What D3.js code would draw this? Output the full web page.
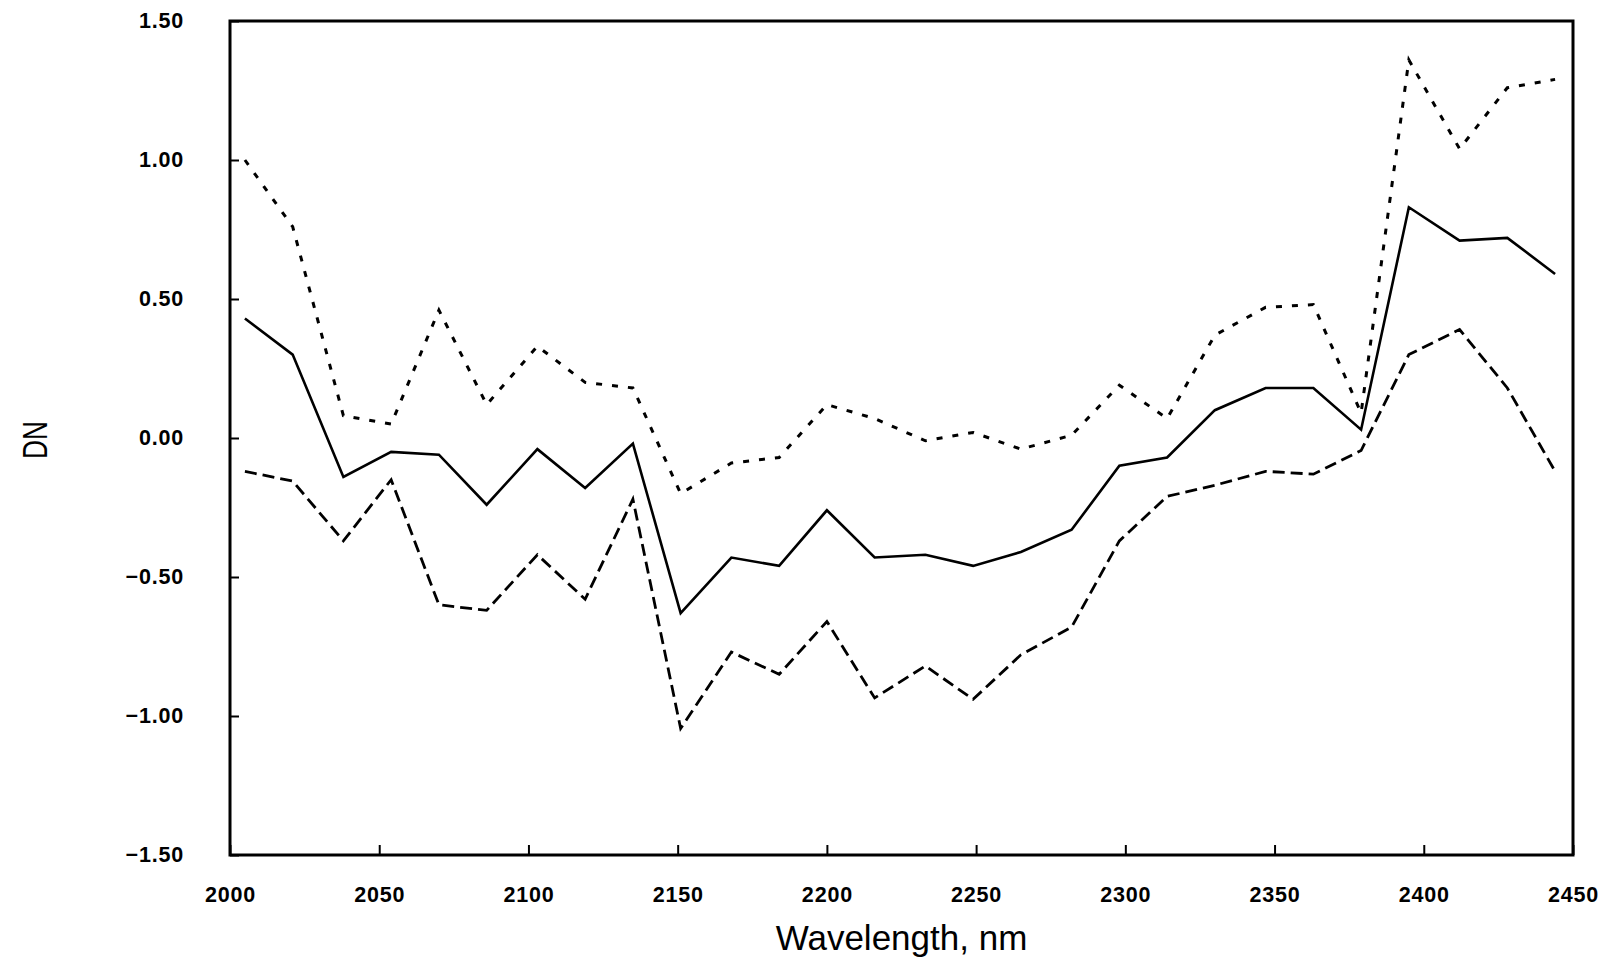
<!DOCTYPE html>
<html lang="en">
<head>
    <meta charset="utf-8">
    <title>DN vs Wavelength</title>
    <script src="https://d3js.org/d3.v7.min.js"></script>
    <style>
        body {
            margin: 0;
            background: #fff;
            font-family: "Liberation Sans", Arial, sans-serif;
        }
        .tick text {
            font-size: 21.5px;
            font-weight: bold;
            letter-spacing: 0.8px;
            fill: #000;
        }
        .axis-title {
            font-size: 35px;
            fill: #000;
        }
    </style>
</head>
<body>
    <svg id="chart" width="1605" height="961"></svg>

    <script>
        // band centres (nm)
        const wavelengths = [2005, 2021, 2038, 2054, 2070, 2086, 2103, 2119, 2135, 2151,
                             2168, 2184, 2200, 2216, 2233, 2249, 2265, 2282, 2298, 2314,
                             2330, 2347, 2363, 2379, 2395, 2412, 2428, 2444];

        const meanDN = [0.43, 0.30, -0.14, -0.05, -0.06, -0.24, -0.04, -0.18, -0.02, -0.63,
                        -0.43, -0.46, -0.26, -0.43, -0.42, -0.46, -0.41, -0.33, -0.10, -0.07,
                        0.10, 0.18, 0.18, 0.03, 0.83, 0.71, 0.72, 0.59];

        const upperDN = [1.00, 0.76, 0.08, 0.05, 0.46, 0.12, 0.33, 0.20, 0.18, -0.20,
                         -0.09, -0.07, 0.12, 0.07, -0.01, 0.02, -0.04, 0.01, 0.19, 0.07,
                         0.37, 0.47, 0.48, 0.09, 1.36, 1.04, 1.26, 1.29];

        const lowerDN = [-0.12, -0.155, -0.37, -0.15, -0.60, -0.62, -0.42, -0.58, -0.22, -1.045,
                         -0.77, -0.85, -0.66, -0.935, -0.82, -0.94, -0.78, -0.68, -0.37, -0.21,
                         -0.17, -0.12, -0.13, -0.045, 0.30, 0.39, 0.18, -0.12];

        const xTicks = [2000, 2050, 2100, 2150, 2200, 2250, 2300, 2350, 2400, 2450];
        const yTicks = [-1.5, -1.0, -0.5, 0, 0.5, 1.0, 1.5];

        const margin = {top: 21, right: 32, bottom: 106, left: 230};
        const svg = d3.select("#chart");
        const width = +svg.attr("width") - margin.left - margin.right;
        const height = +svg.attr("height") - margin.top - margin.bottom;

        const x = d3.scaleLinear().domain([2000, 2450]).range([0, width]);
        const y = d3.scaleLinear().domain([-1.5, 1.5]).range([height, 0]);

        const g = svg.append("g")
            .attr("transform", `translate(${margin.left},${margin.top})`);

        // axes with inward ticks
        const xAxis = g.append("g")
            .attr("transform", `translate(0,${height})`)
            .call(d3.axisBottom(x).tickValues(xTicks).tickSize(-10).tickPadding(32).tickFormat(d3.format("d")));

        const yAxis = g.append("g")
            .call(d3.axisLeft(y).tickValues(yTicks).tickSize(-9).tickPadding(46).tickFormat(d3.format(".2f")));

        [xAxis, yAxis].forEach(a => {
            a.select(".domain").remove();
            a.selectAll(".tick line").attr("stroke", "#000").attr("stroke-width", 2);
        });

        // frame
        g.append("rect")
            .attr("x", 0).attr("y", 0)
            .attr("width", width).attr("height", height)
            .attr("fill", "none")
            .attr("stroke", "#000")
            .attr("stroke-width", 3);

        const line = d3.line()
            .x((d, i) => x(wavelengths[i]))
            .y(d => y(d));

        const series = [
            {values: meanDN, dash: null, w: 2.6},
            {values: upperDN, dash: "6,10", w: 3},
            {values: lowerDN, dash: "12,6", w: 2.8}
        ];

        g.selectAll(".series")
            .data(series)
            .join("path")
            .attr("class", "series")
            .attr("d", d => line(d.values))
            .attr("fill", "none")
            .attr("stroke", "#000")
            .attr("stroke-width", d => d.w)
            .attr("stroke-linejoin", "miter")
            .attr("stroke-dasharray", d => d.dash);

        // axis titles
        svg.append("text")
            .attr("class", "axis-title")
            .attr("x", margin.left + width / 2)
            .attr("y", 950)
            .attr("text-anchor", "middle")
            .text("Wavelength, nm");

        svg.append("text")
            .attr("class", "axis-title")
            .attr("transform", `translate(47,440) rotate(-90) scale(0.75,1)`)
            .attr("text-anchor", "middle")
            .text("DN");
    </script>
</body>
</html>
